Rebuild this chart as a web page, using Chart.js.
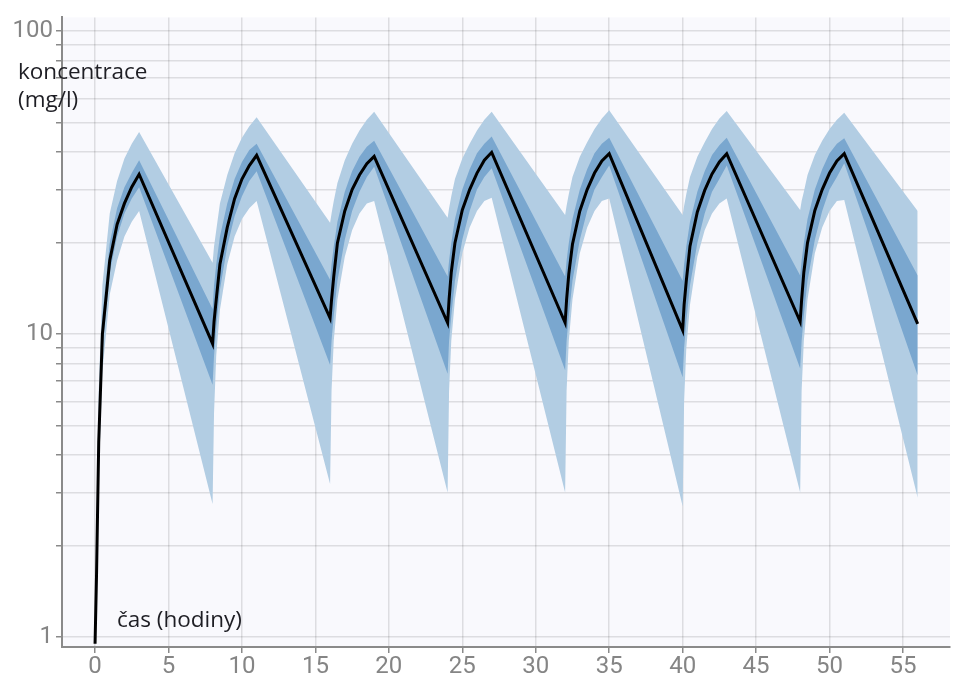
<!DOCTYPE html>
<html>
<head>
<meta charset="utf-8">
<script src="https://cdn.jsdelivr.net/npm/chart.js@4.4.1/dist/chart.umd.min.js"></script>
<style>
  html, body { margin: 0; padding: 0; background: #fff; }
  #wrap { width: 953px; height: 682px; }
</style>
</head>
<body>
<div id="wrap"><canvas id="canvas-conc" width="953" height="682"></canvas></div>
<script>
// time after first dose (h)
var hours = [
  0, 0.1, 0.25, 0.5, 1, 1.5, 2, 2.5, 3,
  8, 8.1, 8.25, 8.5, 9, 9.5, 10, 10.5, 11,
  16, 16.1, 16.25, 16.5, 17, 17.5, 18, 18.5, 19,
  24, 24.1, 24.25, 24.5, 25, 25.5, 26, 26.5, 27,
  32, 32.1, 32.25, 32.5, 33, 33.5, 34, 34.5, 35,
  40, 40.1, 40.25, 40.5, 41, 41.5, 42, 42.5, 43,
  48, 48.1, 48.25, 48.5, 49, 49.5, 50, 50.5, 51,
  56
];

// median concentration (mg/l)
var median = [
  0.95, 1.6, 4.4, 10, 17.5, 23, 27, 30.6, 33.7,
  9.3, 11, 13, 17, 22.5, 28, 32.5, 36, 38.9,
  11.3, 13, 15.5, 20, 25.5, 30, 33.5, 36.5, 38.6,
  10.9, 13, 16, 20, 25.7, 30, 34, 37.5, 39.8,
  10.9, 13, 15.8, 19.8, 25.5, 30, 34, 37.3, 39.4,
  10.3, 12.5, 15, 19.5, 25.3, 29.8, 33.8, 37, 39.4,
  11.0, 13, 16, 20, 25.6, 30, 34, 37.3, 39.4,
  10.8
];

// inner band (upper / lower)
var innerHigh = [
  0.97, 1.8, 5, 11.5, 20, 26, 30.5, 34, 37.5,
  12.1, 14.5, 17, 21, 27, 32.5, 37, 40.5, 42.5,
  15.1, 17, 19.5, 23.5, 29.5, 34.5, 38.5, 41.5, 43.5,
  15.5, 17.5, 20, 24, 30, 35, 39.5, 42.5, 44.9,
  15.5, 17.5, 20, 24, 30, 35, 39.5, 42.5, 44.5,
  15, 17, 19.5, 23.5, 29.5, 34.5, 39, 42, 44.5,
  15.6, 17.5, 20, 24, 30, 35, 39.5, 42.5, 44.3,
  15.6
];
var innerLow = [
  0.93, 1.45, 4, 8.8, 16, 21, 25, 28, 30.5,
  6.8, 8.5, 10.5, 14, 19.5, 24.5, 28.5, 32, 34.5,
  7.9, 9.5, 11.5, 15, 20.5, 25.5, 29.5, 33, 35.7,
  7.4, 9.5, 11.5, 15, 20.5, 25.5, 30, 33, 35.3,
  7.6, 9.5, 11.5, 15, 20.5, 25.5, 30, 33, 36,
  7.2, 9, 11, 14.5, 20, 25, 29.5, 32.5, 36,
  7.7, 9.5, 11.5, 15, 20.5, 25.5, 30, 33, 36.6,
  7.3
];

// outer band (upper / lower)
var outerHigh = [
  1.0, 2.3, 6.5, 14.5, 25, 32, 38, 42.5, 46.5,
  17.2, 19.5, 22, 27, 33.5, 39.5, 44.5, 48.5, 52,
  23.3, 25, 27.5, 31.5, 37.5, 42.5, 47, 51, 54.2,
  24.2, 26, 28.5, 32.5, 38, 42.5, 47, 51, 54.2,
  24.7, 26.5, 29, 33, 38.5, 43, 47.5, 51.5, 54.8,
  24.7, 26.5, 29, 33, 38.5, 43, 47.5, 51.5, 54.5,
  25.7, 27.5, 29.5, 33.5, 39, 43.5, 47.5, 51, 53.8,
  25.5
];
var outerLow = [
  0.93, 1.3, 3.4, 7.5, 13.5, 17.5, 21, 23.5, 25.5,
  2.75, 5.5, 8.5, 12, 17, 21, 24, 26, 27.5,
  3.2, 6.5, 9.5, 13, 18, 22, 25, 27, 27.5,
  3.0, 6.5, 9.5, 13, 18.5, 22.5, 25.5, 27.5, 28.2,
  3.0, 6.5, 9.5, 13, 18.5, 22.5, 25.5, 27.5, 28,
  2.7, 6, 9, 12.5, 18, 22, 25, 27, 28,
  3.0, 6.5, 9.5, 13, 18.5, 22.5, 25.5, 27.5, 27.7,
  2.88
];

var xTicks = [0, 5, 10, 15, 20, 25, 30, 35, 40, 45, 50, 55];
var yGrid = [1, 2, 3, 4, 5, 6, 7, 8, 9, 10, 20, 30, 40, 50, 60, 70, 80, 90, 100];
var yLabels = [1, 10, 100];
var yTitle = ['koncentrace', '(mg/l)'];
var xTitle = 'čas (hodiny)';

function pts(values) {
  return hours.map(function (h, i) { return { x: h, y: values[i] }; });
}

var plotDecor = {
  id: 'plotDecor',
  beforeDraw: function (chart) {
    var a = chart.chartArea, ctx = chart.ctx;
    ctx.save();
    ctx.fillStyle = '#f9f9fd';
    ctx.fillRect(a.left, a.top, a.right - a.left, a.bottom - a.top);
    ctx.restore();
  },
  afterDraw: function (chart) {
    var ctx = chart.ctx;
    ctx.save();
    ctx.font = '22.5px "Open Sans"';
    ctx.fillStyle = '#1e1e24';
    ctx.textBaseline = 'alphabetic';
    ctx.fillText(yTitle[0], 18, 79);
    ctx.fillText(yTitle[1], 18, 107);
    ctx.fillText(xTitle, 117, 627);
    ctx.restore();
  }
};

var gridStyle = { color: 'rgba(0,0,0,0.11)', lineWidth: 1.5, tickLength: 6, tickColor: '#8a8a8a', tickWidth: 1.5 };
var tickFont = { size: 24, family: 'Roboto' };

var config = {
  type: 'line',
  data: {
    datasets: [
      { label: 'medián', data: pts(median), borderColor: '#000', borderWidth: 3, pointRadius: 0, fill: false },
      { label: 'inner high', data: pts(innerHigh), borderWidth: 0, pointRadius: 0, backgroundColor: '#7aa7cf', fill: '+1' },
      { label: 'inner low', data: pts(innerLow), borderWidth: 0, pointRadius: 0, fill: false },
      { label: 'outer high', data: pts(outerHigh), borderWidth: 0, pointRadius: 0, backgroundColor: '#b2cde3', fill: '+1' },
      { label: 'outer low', data: pts(outerLow), borderWidth: 0, pointRadius: 0, fill: false }
    ]
  },
  options: {
    responsive: false,
    animation: false,
    devicePixelRatio: 1,
    layout: { padding: { top: 10, right: 3, left: 0, bottom: 0 } },
    plugins: { legend: { display: false }, tooltip: { enabled: false } },
    elements: { line: { tension: 0 } },
    scales: {
      x: {
        type: 'linear', min: -2.25, max: 58.2,
        afterBuildTicks: function (scale) { scale.ticks = xTicks.map(function (v) { return { value: v }; }); },
        afterFit: function (scale) { scale.height = 35; },
        ticks: { font: tickFont, color: '#858585', padding: 0, maxRotation: 0, autoSkip: false },
        grid: gridStyle,
        border: { color: '#8a8a8a', width: 2 }
      },
      y: {
        type: 'logarithmic', min: 0.927, max: 111,
        afterBuildTicks: function (scale) { scale.ticks = yGrid.map(function (v) { return { value: v }; }); },
        afterFit: function (scale) { scale.width = 62; },
        ticks: {
          font: tickFont, color: '#858585', padding: 3, autoSkip: false,
          callback: function (v) { return yLabels.indexOf(v) >= 0 ? String(v) : ''; }
        },
        grid: gridStyle,
        border: { color: '#8a8a8a', width: 2 }
      }
    }
  },
  plugins: [plotDecor]
};

var concChart = new Chart(document.getElementById('canvas-conc'), config);
</script>
</body>
</html>
